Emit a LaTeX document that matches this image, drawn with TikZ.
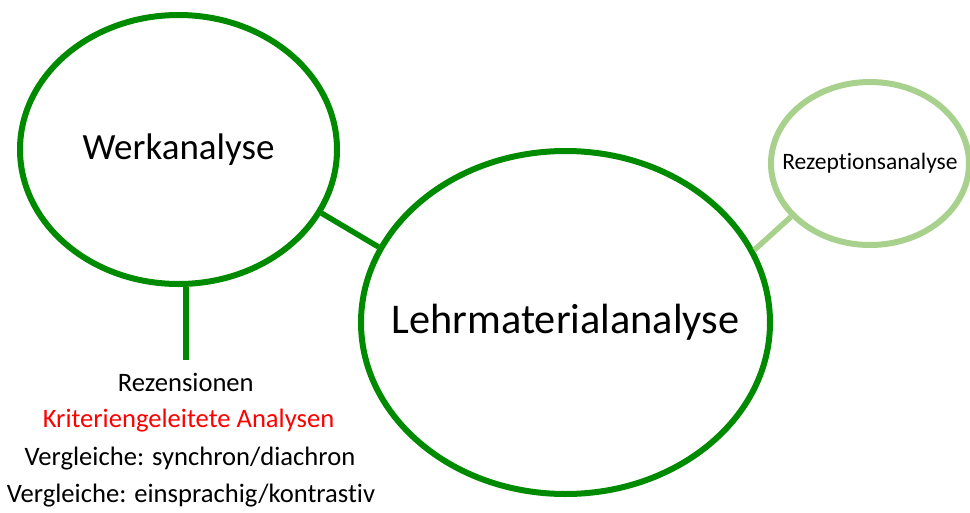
\documentclass[tikz,border=0pt]{standalone}
\usepackage{fontspec}
\setmainfont[RawFeature={-liga;-clig;-dlig;-calt}]{Carlito}
\usetikzlibrary{shapes.geometric}
\definecolor{dkgreen}{RGB}{0,138,0}
\definecolor{ltgreen}{RGB}{169,209,142}
\definecolor{txtred}{RGB}{255,0,0}
\tikzset{
  bubble/.style={ellipse, draw=dkgreen, line width=6pt, inner sep=0pt, fill=white},
  lightbubble/.style={ellipse, draw=ltgreen, line width=6pt, inner sep=0pt, fill=white},
  link/.style={draw=dkgreen, line width=5.5pt},
  lightlink/.style={draw=ltgreen, line width=5.5pt},
  item/.style={anchor=base, inner sep=0pt, font=\fontsize{26.6}{30}\selectfont},
}
\begin{document}
\begin{tikzpicture}[x=1pt, y=-1pt]
\useasboundingbox (0,0) rectangle (970,512);
\begin{scope}
\clip (0,0) rectangle (970,512);
\node[bubble, minimum width=317pt, minimum height=269pt] (werk) at (178.5,149.5)
  {\makebox[0pt]{\fontsize{37}{40}\selectfont Werkanalyse}};
\node[bubble, minimum width=409pt, minimum height=343pt] (lehr) at (565.5,322.5)
  {\makebox[0pt]{\fontsize{42.3}{46}\selectfont Lehrmaterialanalyse}};
\node[lightbubble, minimum width=198pt, minimum height=163pt] (rez) at (870,163.5)
  {\makebox[0pt]{\fontsize{23.5}{26}\selectfont Rezeptionsanalyse}};
\end{scope}
\draw[link] (werk.-24.6) -- (lehr.158.4);
\draw[lightlink] (lehr.21.3) -- (rez.-146.6);
\coordinate (stem) at (186,360);
\draw[link] (werk.south -| stem) -- (stem);
\node[item] (l1) at (185.8,391) {Rezensionen};
\node[item, text=txtred] (l2) at (188.5,427) {Kriteriengeleitete Analysen};
\node[item] (l3) at (190,465) {Vergleiche: synchron/diachron};
\node[item] (l4) at (191,502) {Vergleiche: einsprachig/kontrastiv};
\end{tikzpicture}
\end{document}
